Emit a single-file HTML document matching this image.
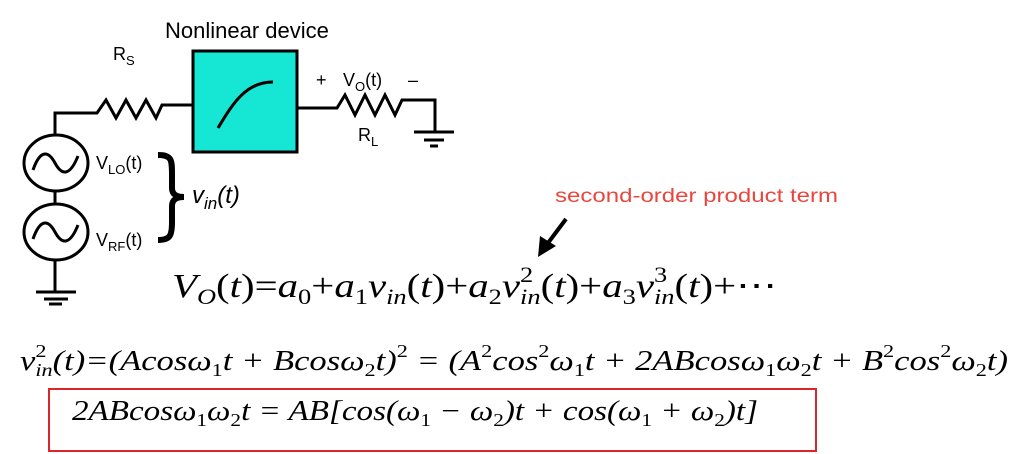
<!DOCTYPE html>
<html><head><meta charset="utf-8"><style>
html,body{margin:0;padding:0;background:#fff;}
svg{display:block;}
</style></head><body>
<svg width="1024" height="454" viewBox="0 0 1024 454" xmlns="http://www.w3.org/2000/svg">
<g stroke="#000" stroke-width="3" fill="none" stroke-linejoin="miter">
  <polyline points="55,136 55,113 97,113 106,100 116,118 126,100 136,118 146,100 156,118 162,105 192,105"/>
  <polyline points="298,108 337,108 345,95 355,115 365,95 375,115 385,95 395,115 402,100 435,100 435,131"/>
  <line x1="414" y1="132" x2="454" y2="132"/>
  <line x1="424" y1="140" x2="444" y2="140"/>
  <line x1="430" y1="146" x2="438" y2="146"/>
  <ellipse cx="56" cy="163" rx="32" ry="28"/>
  <ellipse cx="56" cy="232" rx="32" ry="28"/>
  <line x1="55" y1="191" x2="55" y2="204"/>
  <line x1="55" y1="260" x2="55" y2="291"/>
  <line x1="36" y1="292" x2="76" y2="292"/>
  <line x1="44" y1="299" x2="68" y2="299"/>
  <path d="M33,170 C40,150 48,150 55,163 C62,176 70,176 78,156"/>
  <path d="M33,239 C40,219 48,219 55,232 C62,245 70,245 78,225"/>
</g>
<line x1="49" y1="304" x2="62" y2="304" stroke="#000" stroke-width="3"/>
<rect x="193" y="51" width="104" height="101" fill="#16E6D4" stroke="#000" stroke-width="3"/>
<path d="M218,128 C232,105 245,82 273,82" stroke="#000" stroke-width="3" fill="none"/>
<path d="M158,155 C172,155 172,160 172,175 L172,188 C172,194 176,197 184,197 C176,197 172,200 172,206 L172,222 C172,236 170,240 158,240" stroke="#000" stroke-width="6" fill="none"/>
<line x1="566" y1="219" x2="548" y2="243" stroke="#000" stroke-width="4"/>
<polygon points="538,257 540,236 556,246" fill="#000"/>
<rect x="49" y="389" width="767" height="62" fill="none" stroke="#D9262A" stroke-width="2"/>
<g font-family="Liberation Sans, sans-serif" fill="#000">
  <text x="165" y="38" font-size="22">Nonlinear device</text>
  <text x="113" y="60" font-size="18">R<tspan font-size="13" dy="5">S</tspan></text>
  <text x="316" y="86" font-size="18">+</text>
  <text x="343" y="86" font-size="18">V<tspan font-size="13" dy="5">O</tspan><tspan dy="-5">(t)</tspan></text>
  <text x="408" y="86" font-size="18">–</text>
  <text x="358" y="141" font-size="18">R<tspan font-size="13" dy="5">L</tspan></text>
  <text x="96" y="169" font-size="18">V<tspan font-size="13" dy="5">LO</tspan><tspan dy="-5">(t)</tspan></text>
  <text x="96" y="246" font-size="18">V<tspan font-size="13" dy="5">RF</tspan><tspan dy="-5">(t)</tspan></text>
  <text x="192" y="203" font-size="24" font-style="italic">v<tspan font-size="17" dy="6">in</tspan><tspan dy="-6">(t)</tspan></text>
  <text x="555" y="202" font-size="19" fill="#E8473F" textLength="283" lengthAdjust="spacingAndGlyphs">second-order product term</text>
</g>
<g font-family="Liberation Serif, serif" fill="#000">
  <text x="172" y="297" font-size="34" textLength="605" lengthAdjust="spacingAndGlyphs"><tspan font-style="italic">V</tspan><tspan font-style="italic" font-size="22" dy="7">O</tspan><tspan dy="-7">(</tspan><tspan font-style="italic">t</tspan>)=<tspan font-style="italic">a</tspan><tspan font-size="22" dy="7">0</tspan><tspan dy="-7">+</tspan><tspan font-style="italic">a</tspan><tspan font-size="22" dy="7">1</tspan><tspan font-style="italic" dy="-7">v</tspan><tspan font-style="italic" font-size="22" dy="7">in</tspan><tspan dy="-7">(</tspan><tspan font-style="italic">t</tspan>)+<tspan font-style="italic">a</tspan><tspan font-size="22" dy="7">2</tspan><tspan font-style="italic" dy="-7">v</tspan><tspan font-size="22" dy="-15">2</tspan><tspan font-style="italic" font-size="22" dx="-11" dy="22">in</tspan><tspan dy="-7">(</tspan><tspan font-style="italic">t</tspan>)+<tspan font-style="italic">a</tspan><tspan font-size="22" dy="7">3</tspan><tspan font-style="italic" dy="-7">v</tspan><tspan font-size="22" dy="-15">3</tspan><tspan font-style="italic" font-size="22" dx="-11" dy="22">in</tspan><tspan dy="-7">(</tspan><tspan font-style="italic">t</tspan>)+⋯</text>
  <text x="20" y="370" font-size="28" font-style="italic" textLength="988" lengthAdjust="spacingAndGlyphs">v<tspan font-size="18" dy="-13" font-style="normal">2</tspan><tspan font-size="18" dx="-9" dy="19">in</tspan><tspan dy="-6">(t)=(Acosω</tspan><tspan font-size="18" dy="6" font-style="normal">1</tspan><tspan dy="-6">t + Bcosω</tspan><tspan font-size="18" dy="6" font-style="normal">2</tspan><tspan dy="-6">t)</tspan><tspan font-size="18" dy="-13" font-style="normal">2</tspan><tspan dy="13"> = (A</tspan><tspan font-size="18" dy="-13" font-style="normal">2</tspan><tspan dy="13">cos</tspan><tspan font-size="18" dy="-13" font-style="normal">2</tspan><tspan dy="13">ω</tspan><tspan font-size="18" dy="6" font-style="normal">1</tspan><tspan dy="-6">t + 2ABcosω</tspan><tspan font-size="18" dy="6" font-style="normal">1</tspan><tspan dy="-6">ω</tspan><tspan font-size="18" dy="6" font-style="normal">2</tspan><tspan dy="-6">t +  B</tspan><tspan font-size="18" dy="-13" font-style="normal">2</tspan><tspan dy="13">cos</tspan><tspan font-size="18" dy="-13" font-style="normal">2</tspan><tspan dy="13">ω</tspan><tspan font-size="18" dy="6" font-style="normal">2</tspan><tspan dy="-6">t)</tspan></text>
  <text x="72" y="420" font-size="28" font-style="italic" textLength="686" lengthAdjust="spacingAndGlyphs">2ABcosω<tspan font-size="18" dy="6" font-style="normal">1</tspan><tspan dy="-6">ω</tspan><tspan font-size="18" dy="6" font-style="normal">2</tspan><tspan dy="-6">t = AB[cos(ω</tspan><tspan font-size="18" dy="6" font-style="normal">1</tspan><tspan dy="-6"> − ω</tspan><tspan font-size="18" dy="6" font-style="normal">2</tspan><tspan dy="-6">)t + cos(ω</tspan><tspan font-size="18" dy="6" font-style="normal">1</tspan><tspan dy="-6"> + ω</tspan><tspan font-size="18" dy="6" font-style="normal">2</tspan><tspan dy="-6">)t]</tspan></text>
</g>
</svg>
</body></html>
